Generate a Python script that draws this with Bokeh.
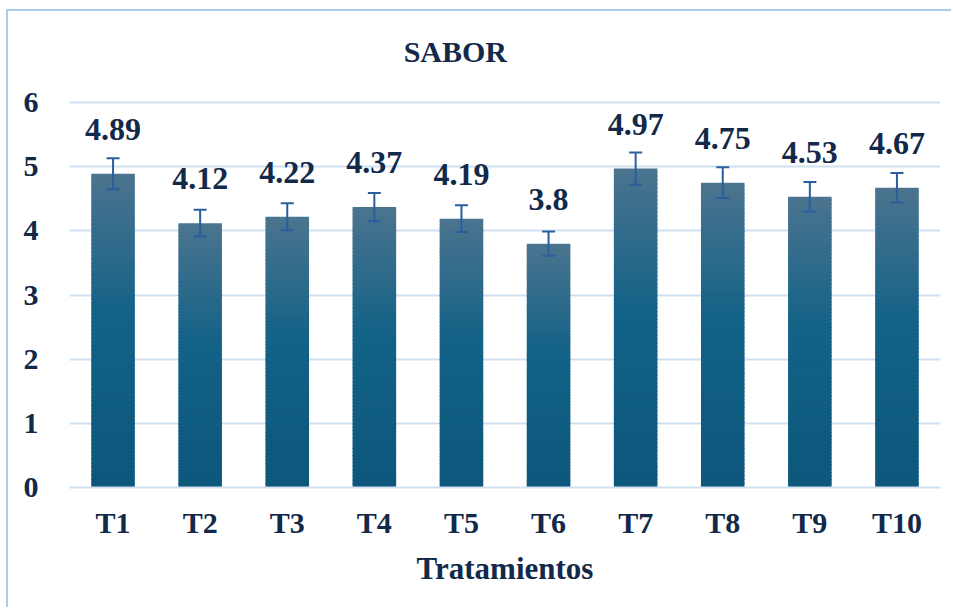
from bokeh.plotting import figure
from bokeh.models import Range1d, FixedTicker, ColumnDataSource, LabelSet, Label, Whisker
from bokeh.embed import file_html
from bokeh.resources import INLINE

categories = ["T1", "T2", "T3", "T4", "T5", "T6", "T7", "T8", "T9", "T10"]
values = [4.89, 4.12, 4.22, 4.37, 4.19, 3.80, 4.97, 4.75, 4.53, 4.67]
errors = [0.24, 0.21, 0.21, 0.22, 0.21, 0.19, 0.25, 0.24, 0.23, 0.23]
value_labels = ["4.89", "4.12", "4.22", "4.37", "4.19", "3.8", "4.97", "4.75", "4.53", "4.67"]
y_ticks = [0, 1, 2, 3, 4, 5, 6]
chart_title = "SABOR"
x_title = "Tratamientos"

FONT = "Liberation Serif"
TXT = "#12294a"
GRID = "#cfe0f3"

xs = list(range(1, len(categories) + 1))

p = figure(width=945, height=598, output_backend="svg", toolbar_location=None,
           x_range=Range1d(0.5, len(categories) + 0.5), y_range=Range1d(0, 7.2),
           min_border_left=61, min_border_right=13, min_border_top=14, min_border_bottom=122)
p.styles = {"margin-left": "6px", "margin-top": "9px",
            "border-left": "2px solid #a9cdef", "border-top": "2px solid #a9cdef"}
p.outline_line_color = None
p.background_fill_color = "white"

# gradient bars: stack of thin slices, colour by relative height within each bar
def lerp(c1, c2, t):
    a = [int(c1[i:i + 2], 16) for i in (1, 3, 5)]
    b = [int(c2[i:i + 2], 16) for i in (1, 3, 5)]
    return "#%02x%02x%02x" % tuple(round(a[k] + (b[k] - a[k]) * t) for k in range(3))

stops = [(0.0, "#4b748f"), (0.45, "#136287"), (1.0, "#0c577b")]
def grad(t):
    for (t0, c0), (t1, c1) in zip(stops[:-1], stops[1:]):
        if t <= t1:
            return lerp(c0, c1, (t - t0) / (t1 - t0))
    return stops[-1][1]

N = 80
gx, gb, gt, gc = [], [], [], []
for x, v in zip(xs, values):
    for k in range(N):
        b = v * k / N
        t = v * (k + 1) / N
        gx.append(x); gb.append(b); gt.append(t + v / N * 0.3 if k < N - 1 else t)
        gc.append(grad(1 - (k + 0.5) / N))
p.vbar(x=gx, bottom=gb, top=gt, width=0.5, fill_color=gc, line_color=None)

src = ColumnDataSource(dict(x=xs, v=values, lo=[v - e for v, e in zip(values, errors)],
                            hi=[v + e for v, e in zip(values, errors)], lab=value_labels))
w = Whisker(source=src, base="x", lower="lo", upper="hi", line_color="#2a5e9c", line_width=2,
            level="overlay")
for head in (w.upper_head, w.lower_head):
    head.size = 13
    head.line_color = "#2a5e9c"
    head.line_width = 2
p.add_layout(w)

labels = LabelSet(source=src, x="x", y="v", text="lab", y_offset=34, text_align="center",
                  text_baseline="bottom", text_font=FONT, text_font_style="bold",
                  text_font_size="32px", text_color=TXT)
p.add_layout(labels)

title = Label(x=4.93, y=6.79, text=chart_title, text_align="center", text_baseline="middle",
              text_font=FONT, text_font_style="bold", text_font_size="30px", text_color=TXT)
p.add_layout(title)

p.xaxis.ticker = FixedTicker(ticks=xs)
p.xaxis.major_label_overrides = {x: c for x, c in zip(xs, categories)}
p.yaxis.ticker = FixedTicker(ticks=y_ticks)
for ax in (p.xaxis, p.yaxis):
    ax.major_label_text_font = FONT
    ax.major_label_text_font_style = "bold"
    ax.major_label_text_font_size = "30px"
    ax.major_label_text_color = TXT
    ax.major_tick_line_color = None
    ax.minor_tick_line_color = None
p.xaxis.axis_line_color = GRID
p.xaxis.axis_line_width = 2
p.yaxis.axis_line_color = None
p.xaxis.major_label_standoff = 12
p.yaxis.major_label_standoff = 25
p.xaxis.axis_label = x_title
p.xaxis.axis_label_text_font = FONT
p.xaxis.axis_label_text_font_style = "bold"
p.xaxis.axis_label_text_font_size = "31px"
p.xaxis.axis_label_text_color = TXT
p.xaxis.axis_label_standoff = 9

p.xgrid.grid_line_color = None
p.ygrid.grid_line_color = GRID
p.ygrid.grid_line_width = 2

open("out.html", "w").write(file_html(p, INLINE))
